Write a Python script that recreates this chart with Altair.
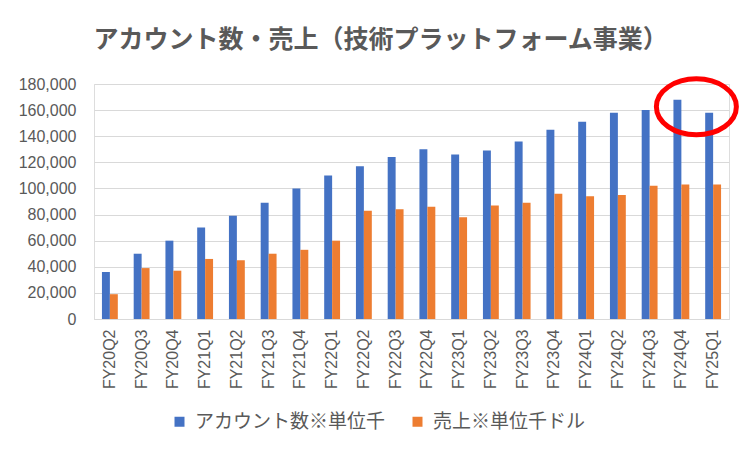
import altair as alt
import pandas as pd

quarters = ["FY20Q2", "FY20Q3", "FY20Q4", "FY21Q1", "FY21Q2", "FY21Q3", "FY21Q4",
            "FY22Q1", "FY22Q2", "FY22Q3", "FY22Q4", "FY23Q1", "FY23Q2", "FY23Q3",
            "FY23Q4", "FY24Q1", "FY24Q2", "FY24Q3", "FY24Q4", "FY25Q1"]
accounts = [36000, 50000, 60000, 70000, 79000, 89000, 100000, 110000, 117000, 124000,
            130000, 126000, 129000, 136000, 145000, 151000, 158000, 160000, 168000, 158000]
sales = [19000, 39000, 37000, 46000, 45000, 50000, 53000, 60000, 83000, 84000,
         86000, 78000, 87000, 89000, 96000, 94000, 95000, 102000, 103000, 103000]
series_names = ["アカウント数※単位千", "売上※単位千ドル"]
series_colors = ["#4472C4", "#ED7D31"]
y_ticks = [0, 20000, 40000, 60000, 80000, 100000, 120000, 140000, 160000, 180000]
title_text = "アカウント数・売上（技術プラットフォーム事業）"

# highlight annotation (red ellipse) around FY24Q4
highlight_quarter = ["FY24Q4"]
highlight_value = [162500]

rows = []
for q, a, s in zip(quarters, accounts, sales):
    rows.append({"q": q, "series": series_names[0], "v": a})
    rows.append({"q": q, "series": series_names[1], "v": s})
df = pd.DataFrame(rows)
hl = pd.DataFrame({"q": highlight_quarter, "v": highlight_value})

x_scale = alt.Scale(paddingInner=0.5, paddingOuter=0.25)
x_axis = alt.Axis(labelAngle=270, labelFont="Liberation Sans", labelFontSize=16,
                  labelColor="#595959", ticks=False, labelPadding=10,
                  domainColor="#D9D9D9", domainWidth=1, grid=False)
y_scale = alt.Scale(domain=[0, 180000], nice=False)
y_axis = alt.Axis(values=y_ticks, format=",d", labelFont="Liberation Sans",
                  labelFontSize=16, labelColor="#595959", ticks=False,
                  labelOverlap=False, labelFlush=False,
                  labelPadding=18, domain=False, gridColor="#D9D9D9", gridWidth=1)

bars = alt.Chart(df).mark_bar().encode(
    x=alt.X("q:N", sort=quarters, title=None, scale=x_scale, axis=x_axis),
    xOffset=alt.XOffset("series:N", sort=series_names, scale=alt.Scale(paddingInner=0, paddingOuter=0)),
    y=alt.Y("v:Q", scale=y_scale, title=None, axis=y_axis),
    color=alt.Color("series:N", sort=series_names,
                    scale=alt.Scale(domain=series_names, range=series_colors),
                    legend=alt.Legend(title=None, orient="none", direction="horizontal",
                                      legendX=76, legendY=328, symbolType="square",
                                      symbolSize=100, symbolStrokeWidth=0, labelOffset=6,
                                      labelLimit=400,
                                      labelFont="Noto Sans CJK JP", labelFontSize=19,
                                      labelColor="#595959", columnPadding=22)),
)

ellipse_path = "M -1 0 A 1 0.7 0 1 0 1 0 A 1 0.7 0 1 0 -1 0 Z"
ring = alt.Chart(hl).mark_point(shape=ellipse_path, size=6400, filled=False,
                                stroke="#FF0000", strokeWidth=5, opacity=1,
                                xOffset=15).encode(
    x=alt.X("q:N", sort=quarters, title=None, scale=x_scale, axis=x_axis),
    y=alt.Y("v:Q", scale=y_scale, title=None, axis=y_axis),
)

chart = alt.layer(bars, ring).properties(
    width=635, height=235,
    autosize=alt.AutoSizeParams(type="none"),
    padding={"left": 86, "top": 76, "right": 16, "bottom": 126},
    title=alt.TitleParams(title_text, font="Noto Sans CJK JP", fontSize=25, fontWeight="bold",
                          color="#595959", anchor="middle", dx=-31, offset=16),
).configure_view(stroke="transparent", strokeWidth=0).configure(background="white")

chart.save("out.html", embed_options={"renderer": "svg", "actions": False})
